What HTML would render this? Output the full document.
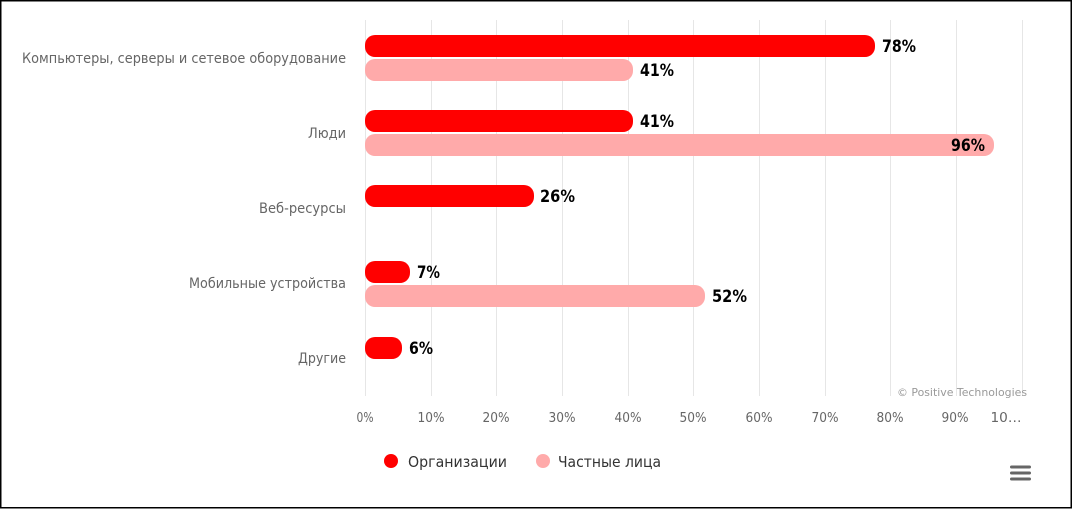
<!DOCTYPE html>
<html>
<head>
<meta charset="utf-8">
<style>
  html, body { margin:0; padding:0; background:#fff; }
  svg { display:block; }
  text { font-family: "DejaVu Sans", "Liberation Sans", sans-serif; }
</style>
</head>
<body>
<svg width="1073" height="509" viewBox="0 0 1073 509" xmlns="http://www.w3.org/2000/svg">
  <rect x="0" y="0" width="1073" height="509" fill="#fff"/>
  <!-- gridlines -->
  <g stroke="#e6e6e6" stroke-width="1">
    <line x1="365.5" y1="20" x2="365.5" y2="396"/>
    <line x1="431.5" y1="20" x2="431.5" y2="396"/>
    <line x1="496.5" y1="20" x2="496.5" y2="396"/>
    <line x1="562.5" y1="20" x2="562.5" y2="396"/>
    <line x1="628.5" y1="20" x2="628.5" y2="396"/>
    <line x1="693.5" y1="20" x2="693.5" y2="396"/>
    <line x1="759.5" y1="20" x2="759.5" y2="396"/>
    <line x1="825.5" y1="20" x2="825.5" y2="396"/>
    <line x1="890.5" y1="20" x2="890.5" y2="396"/>
    <line x1="956.5" y1="20" x2="956.5" y2="396"/>
    <line x1="1022.5" y1="20" x2="1022.5" y2="396"/>
  </g>

  <!-- category labels -->
  <g fill="#666666" font-size="14" text-anchor="end">
    <text x="346" y="63" textLength="324" lengthAdjust="spacingAndGlyphs">Компьютеры, серверы и сетевое оборудование</text>
    <text x="346" y="138" textLength="38" lengthAdjust="spacingAndGlyphs">Люди</text>
    <text x="346" y="213" textLength="87" lengthAdjust="spacingAndGlyphs">Веб-ресурсы</text>
    <text x="346" y="288" textLength="157" lengthAdjust="spacingAndGlyphs">Мобильные устройства</text>
    <text x="346" y="363" textLength="48" lengthAdjust="spacingAndGlyphs">Другие</text>
  </g>

  <!-- bars -->
  <g>
    <rect x="365" y="35" width="510" height="22" rx="10" fill="#ff0000"/>
    <rect x="365" y="59" width="268" height="22" rx="10" fill="#ffaaaa"/>
    <rect x="365" y="110" width="268" height="22" rx="10" fill="#ff0000"/>
    <rect x="365" y="134" width="629" height="22" rx="10" fill="#ffaaaa"/>
    <rect x="365" y="185" width="169" height="22" rx="10" fill="#ff0000"/>
    <rect x="365" y="261" width="45" height="22" rx="10" fill="#ff0000"/>
    <rect x="365" y="285" width="340" height="22" rx="10" fill="#ffaaaa"/>
    <rect x="365" y="337" width="37" height="22" rx="10" fill="#ff0000"/>
  </g>

  <!-- data labels -->
  <g fill="#000" font-size="17" font-weight="bold">
    <text x="882" y="52" textLength="34" lengthAdjust="spacingAndGlyphs">78%</text>
    <text x="640" y="76" textLength="34" lengthAdjust="spacingAndGlyphs">41%</text>
    <text x="640" y="127" textLength="34" lengthAdjust="spacingAndGlyphs">41%</text>
    <text x="951" y="151" textLength="34" lengthAdjust="spacingAndGlyphs">96%</text>
    <text x="540" y="202" textLength="35" lengthAdjust="spacingAndGlyphs">26%</text>
    <text x="417" y="278" textLength="23" lengthAdjust="spacingAndGlyphs">7%</text>
    <text x="712" y="302" textLength="35" lengthAdjust="spacingAndGlyphs">52%</text>
    <text x="409" y="354" textLength="24" lengthAdjust="spacingAndGlyphs">6%</text>
  </g>

  <!-- credits -->
  <text x="1027" y="396" fill="#999999" font-size="11" text-anchor="end" textLength="130" lengthAdjust="spacingAndGlyphs">© Positive Technologies</text>

  <!-- x axis labels -->
  <g fill="#666666" font-size="13" text-anchor="middle">
    <text x="365" y="422" textLength="17" lengthAdjust="spacingAndGlyphs">0%</text>
    <text x="431" y="422" textLength="27" lengthAdjust="spacingAndGlyphs">10%</text>
    <text x="496" y="422" textLength="27" lengthAdjust="spacingAndGlyphs">20%</text>
    <text x="562" y="422" textLength="27" lengthAdjust="spacingAndGlyphs">30%</text>
    <text x="628" y="422" textLength="27" lengthAdjust="spacingAndGlyphs">40%</text>
    <text x="693" y="422" textLength="27" lengthAdjust="spacingAndGlyphs">50%</text>
    <text x="759" y="422" textLength="27" lengthAdjust="spacingAndGlyphs">60%</text>
    <text x="825" y="422" textLength="27" lengthAdjust="spacingAndGlyphs">70%</text>
    <text x="890" y="422" textLength="27" lengthAdjust="spacingAndGlyphs">80%</text>
    <text x="955" y="422" textLength="27" lengthAdjust="spacingAndGlyphs">90%</text>
    <text x="1006" y="422" textLength="31" lengthAdjust="spacingAndGlyphs">10…</text>
  </g>

  <!-- legend -->
  <circle cx="391" cy="461" r="7" fill="#ff0000"/>
  <text x="408" y="467" fill="#333333" font-size="15" textLength="99" lengthAdjust="spacingAndGlyphs">Организации</text>
  <circle cx="543" cy="461" r="7" fill="#ffaaaa"/>
  <text x="558" y="467" fill="#333333" font-size="15" textLength="103" lengthAdjust="spacingAndGlyphs">Частные лица</text>

  <!-- menu icon -->
  <g stroke="#666666" stroke-width="3" stroke-linecap="round">
    <line x1="1011.5" y1="467" x2="1029.5" y2="467"/>
    <line x1="1011.5" y1="473" x2="1029.5" y2="473"/>
    <line x1="1011.5" y1="479" x2="1029.5" y2="479"/>
  </g>

  <!-- outer border -->
  <rect x="0.75" y="0.75" width="1070.5" height="507" fill="none" stroke="#000" stroke-width="1.5"/>
</svg>
</body>
</html>
